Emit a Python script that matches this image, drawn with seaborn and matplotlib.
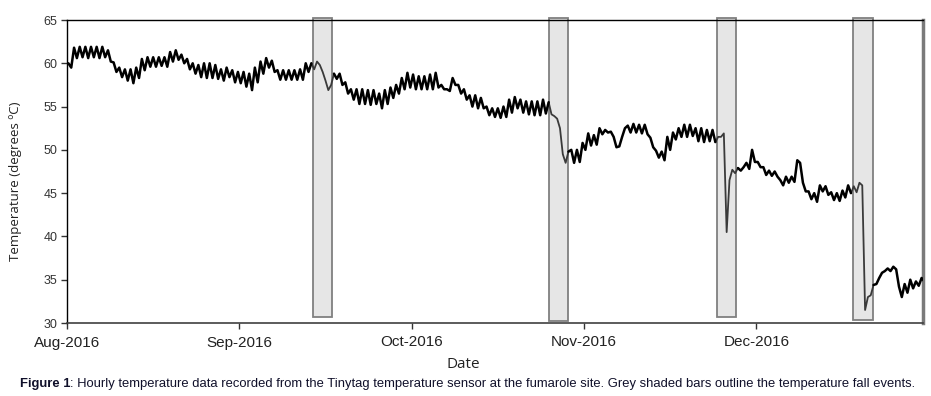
import numpy as np
import pandas as pd
import matplotlib
matplotlib.use("Agg")
import matplotlib.pyplot as plt
import seaborn as sns

# Half-day temperature readings (deg C), in time order
temps_days_000_029 = [60.0, 59.5, 61.8, 60.6, 61.9, 60.7, 61.9, 60.6, 61.9, 60.7,
                      61.9, 60.6, 61.9, 60.7, 61.5, 60.2, 60.1, 59.0, 59.5, 58.4,
                      59.3, 58.0, 59.3, 57.7, 59.5, 58.3, 60.5, 59.2, 60.7, 59.6,
                      60.7, 59.6, 60.7, 59.7, 60.7, 59.6, 61.3, 60.2, 61.5, 60.4,
                      61.0, 60.0, 60.5, 59.3, 60.0, 58.8, 59.8, 58.4, 60.0, 58.3,
                      60.0, 58.3, 59.8, 58.2, 59.3, 58.0, 59.5, 58.4, 59.2, 57.8]
temps_days_030_059 = [59.0, 57.7, 59.0, 57.3, 58.8, 56.9, 59.5, 57.8, 60.2, 58.8,
                      60.6, 59.5, 60.3, 59.0, 59.2, 58.1, 59.2, 58.1, 59.2, 58.1,
                      59.2, 58.1, 59.3, 58.1, 60.0, 59.0, 60.0, 59.3, 60.2, 59.8,
                      59.0, 58.0, 56.9, 57.5, 58.8, 58.2, 58.8, 57.5, 57.8, 56.5,
                      57.0, 55.8, 57.0, 55.3, 57.0, 55.3, 56.9, 55.2, 56.9, 55.3,
                      56.5, 54.8, 56.9, 55.3, 57.2, 56.0, 57.5, 56.5, 58.3, 57.0]
temps_days_060_089 = [58.9, 57.2, 58.7, 57.0, 58.5, 57.0, 58.5, 57.0, 58.7, 57.0,
                      58.9, 57.2, 57.5, 57.0, 57.0, 56.8, 58.3, 57.5, 57.5, 56.5,
                      57.0, 55.8, 56.3, 55.0, 56.3, 54.8, 56.0, 54.8, 55.0, 54.0,
                      54.8, 53.8, 54.8, 53.7, 55.0, 53.8, 55.8, 54.3, 56.1, 54.8,
                      55.8, 54.3, 55.6, 54.1, 55.6, 54.0, 55.6, 54.0, 55.8, 54.2,
                      55.5, 54.1, 53.9, 53.6, 52.5, 49.5, 48.5, 49.8, 50.0, 48.5]
temps_days_090_119 = [50.0, 48.6, 50.8, 50.0, 51.9, 50.5, 51.7, 50.6, 52.5, 51.8,
                      52.3, 52.0, 52.1, 51.5, 50.3, 50.4, 51.5, 52.5, 52.8, 52.0,
                      53.0, 52.0, 52.9, 51.9, 52.9, 51.8, 51.4, 50.3, 49.9, 49.1,
                      49.8, 48.8, 51.5, 50.0, 52.0, 51.2, 52.5, 51.5, 52.9, 51.5,
                      52.9, 51.6, 52.5, 51.0, 52.5, 50.9, 52.3, 51.0, 52.3, 50.9,
                      51.5, 51.5, 51.9, 40.5, 46.5, 47.7, 47.3, 47.9, 47.6, 48.0]
temps_days_120_151 = [48.5, 47.8, 50.0, 48.6, 48.6, 48.0, 48.0, 47.1, 47.6, 47.0,
                      47.5, 46.9, 46.5, 45.9, 46.9, 46.2, 46.9, 46.3, 48.8, 48.5,
                      46.2, 45.2, 45.2, 44.3, 45.0, 44.0, 45.9, 45.2, 45.8, 44.8,
                      45.1, 44.2, 45.0, 44.1, 45.3, 44.5, 45.9, 45.0, 45.8, 45.1,
                      46.2, 45.9, 31.5, 33.0, 33.2, 34.4, 34.5, 35.2, 35.8, 36.0,
                      36.3, 36.0, 36.5, 36.2, 34.2, 33.0, 34.5, 33.5, 35.0, 34.0,
                      34.8, 34.3, 35.2, 34.8]

# Temperature fall events (days since 1 Aug 2016)
event_start = [43.5, 85.3, 115.1, 139.1]
event_end = [46.9, 88.7, 118.4, 142.7]
event_bottom = [30.7, 30.25, 30.7, 30.3]
event_top = 65.25

tick_days = [0, 30.5, 61, 91.5, 122]
tick_labels = ["Aug-2016", "Sep-2016", "Oct-2016", "Nov-2016", "Dec-2016"]
y_ticks = [30, 35, 40, 45, 50, 55, 60, 65]

temps = np.concatenate([temps_days_000_029, temps_days_030_059, temps_days_060_089,
                        temps_days_090_119, temps_days_120_151])
df = pd.DataFrame({"day": np.arange(len(temps)) * 0.5 + 0.25, "temp": temps})
inside = np.zeros(len(df), dtype=bool)
for s, e in zip(event_start, event_end):
    inside |= (df["day"].values > s) & (df["day"].values < e)
df["inside"] = inside

sns.set_theme(style="white")
plt.rcParams["font.family"] = ["Liberation Sans", "DejaVu Sans"]

fig = plt.figure(figsize=(9.31, 3.96), dpi=100)
ax = fig.add_axes([67 / 931, 1 - 323 / 396, 856 / 931, 303 / 396])

heights = [event_top - b for b in event_bottom]
widths = [e - s for s, e in zip(event_start, event_end)]
ax.bar(event_start, heights, width=widths, bottom=event_bottom, align="edge",
       color="#e6e6e6", edgecolor="#808080", linewidth=1.3, clip_on=False, zorder=2)

# split the series into runs outside / inside the event bars (runs share end points)
change = np.flatnonzero(np.diff(inside.astype(int)) != 0) + 1
bounds = [0] + list(change) + [len(df)]
for a, b in zip(bounds[:-1], bounds[1:]):
    lo = max(a - 1, 0)
    hi = min(b + 1, len(df))
    seg = df.iloc[lo:hi]
    if inside[a]:
        sns.lineplot(data=seg, x="day", y="temp", ax=ax, color="#3a3a3a", linewidth=1.3,
                     estimator=None, sort=False, zorder=3)
    else:
        sns.lineplot(data=df.iloc[a:b], x="day", y="temp", ax=ax, color="black",
                     linewidth=1.8, estimator=None, sort=False, zorder=4)

ax.set_xlim(0, 151.5)
ax.set_ylim(30, 65)
ax.set_xticks(tick_days)
ax.set_xticklabels(tick_labels, fontsize=11, color="#222222")
ax.set_yticks(y_ticks)
ax.set_yticklabels([str(v) for v in y_ticks], fontsize=9, color="#333333")
ax.tick_params(axis="both", direction="out", length=4, width=1, color="#333333",
               bottom=True, left=True)
ax.tick_params(axis="x", pad=5)
ax.tick_params(axis="y", pad=3)

for side in ["top", "left"]:
    ax.spines[side].set_color("black")
    ax.spines[side].set_linewidth(1.0)
ax.spines["bottom"].set_color("#404040")
ax.spines["bottom"].set_linewidth(1.2)
ax.spines["right"].set_color("#7a7a7a")
ax.spines["right"].set_linewidth(2.5)

ax.set_xlabel("Date", fontsize=11, family=["Open Sans", "DejaVu Sans"], color="#222222")
ax.xaxis.set_label_coords((463 - 67) / 856, (323 - 357) / 303)
ax.set_ylabel("Temperature (degrees ºC)", fontsize=9.5, family=["Open Sans", "DejaVu Sans"],
              color="#222222")
ax.yaxis.set_label_coords((22 - 67) / 856, (323 - 181) / 303)

ycap = 1 - 384 / 396
t1 = fig.text(20 / 931, ycap, "Figure 1", fontsize=9.35, weight="bold", va="center",
              color="#10102a")
fig.canvas.draw()
bb = t1.get_window_extent(renderer=fig.canvas.get_renderer())
fig.text(bb.x1 / fig.bbox.width, ycap,
         ": Hourly temperature data recorded from the Tinytag temperature sensor at the "
         "fumarole site. Grey shaded bars outline the temperature fall events.",
         fontsize=9.35, va="center", color="#10102a")

fig.savefig("out.png", dpi=100)
